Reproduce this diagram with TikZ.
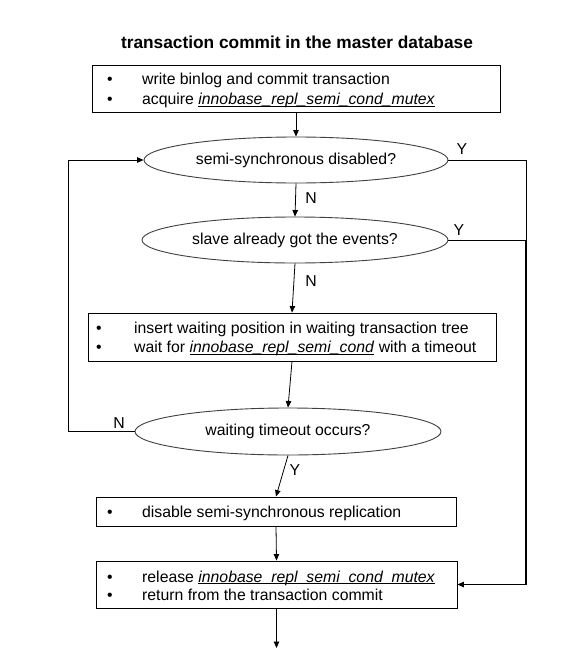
\documentclass[tikz,border=0pt]{standalone}
\usepackage{fontspec}
\setmainfont{Liberation Sans}
\usetikzlibrary{shapes.geometric,arrows.meta}
\newlength\uvlen
\newcommand{\uvar}[1]{\settowidth{\uvlen}{\textit{#1}}\rlap{\textit{#1}}\rule[-2pt]{\uvlen}{0.8pt}}
\begin{document}
\begin{tikzpicture}[x=1pt,y=-1pt,
  txtfont/.style={font=\fontsize{15.8}{18}\selectfont},
  box/.style={draw, line width=0.9pt, inner sep=0pt},
  ell/.style={draw=black!75, line width=0.9pt, ellipse, inner sep=0pt, txtfont},
  txt/.style={anchor=base west, inner sep=0pt, txtfont},
  bul/.style={anchor=base, inner sep=0pt, txtfont},
  lbl/.style={inner sep=0pt, txtfont},
  arr/.style={line width=0.8pt, -{Triangle[width=5.5pt,length=6.5pt]}},
  ln/.style={line width=0.8pt}]
\useasboundingbox[fill=white] (0,0) rectangle (576,672);

\node[inner sep=0pt, font=\bfseries\fontsize{17.3}{20}\selectfont] (title) at (297,42) {transaction commit in the master database};

% boxes
\node[box, minimum width=408pt, minimum height=47pt] (b1) at (296,88.5) {};
\node[bul] (b1a) at (110,84.5) {•};
\node[txt] (b1t1) at (142,84.5) {write binlog and commit transaction};
\node[bul] (b1b) at (110,104.5) {•};
\node[txt] (b1t2) at (142,104.5) {acquire \uvar{innobase\_repl\_semi\_cond\_mutex}};

\node[ell, minimum width=304pt, minimum height=46pt] (e1) at (296,160) {semi-synchronous disabled?};
\node[ell, minimum width=306pt, minimum height=46pt] (e2) at (295,240) {slave already got the events?};

\node[box, minimum width=408pt, minimum height=48pt] (b2) at (292,337) {};
\node[bul] (b2a) at (99,333) {•};
\node[txt] (b2t1) at (134,333) {insert waiting position in waiting transaction tree};
\node[bul] (b2b) at (99,352.5) {•};
\node[txt] (b2t2) at (134,352.5) {wait for \uvar{innobase\_repl\_semi\_cond} with a timeout};

\node[ell, minimum width=306pt, minimum height=47pt] (e3) at (288,431.5) {waiting timeout occurs?};

\node[box, minimum width=360pt, minimum height=29pt] (b3) at (276,511.5) {};
\node[bul] (b3a) at (110,517) {•};
\node[txt] (b3t) at (142,517) {disable semi-synchronous replication};

\node[box, minimum width=361pt, minimum height=47pt] (b4) at (276.5,584.5) {};
\node[bul] (b4a) at (110,582) {•};
\node[txt] (b4t1) at (142,582) {release \uvar{innobase\_repl\_semi\_cond\_mutex}};
\node[bul] (b4b) at (110,600.5) {•};
\node[txt] (b4t2) at (142,600.5) {return from the transaction commit};

\coordinate (end) at (276.5,648);
\coordinate (rc) at (526,0);
\coordinate (lc) at (68,0);

% labels
\node[lbl] (n1) at (311,198) {N};
\node[lbl] (n2) at (311,281) {N};
\node[lbl] (n3) at (119,423) {N};
\node[lbl] (y1) at (462,149) {Y};
\node[lbl] (y2) at (459,230) {Y};
\node[lbl] (y3) at (295,470) {Y};

% connectors
\draw[arr] (b1.south) -- (e1.north);
\draw[arr] (e1.south) -- (e2.north);
\draw[arr] (e2.south) -- (b2.north);
\draw[arr] (b2.south) -- (e3.north);
\draw[arr] (e3.south) -- (b3.north);
\draw[arr] (b3.south) -- (b4.north);
\draw[arr] (b4.south) -- (end);
\draw[arr] (e3.west) -- (lc |- e3.west) |- (e1.west);
\draw[arr] (e1.east) -| (rc |- b4.east) -- (b4.east);
\draw[ln] (e2.east) -- (rc |- e2.east);
\draw[line width=1.7pt] (rc |- e2.east) -- (rc |- b4.east) -- ([xshift=7pt]b4.east);
\end{tikzpicture}
\end{document}
